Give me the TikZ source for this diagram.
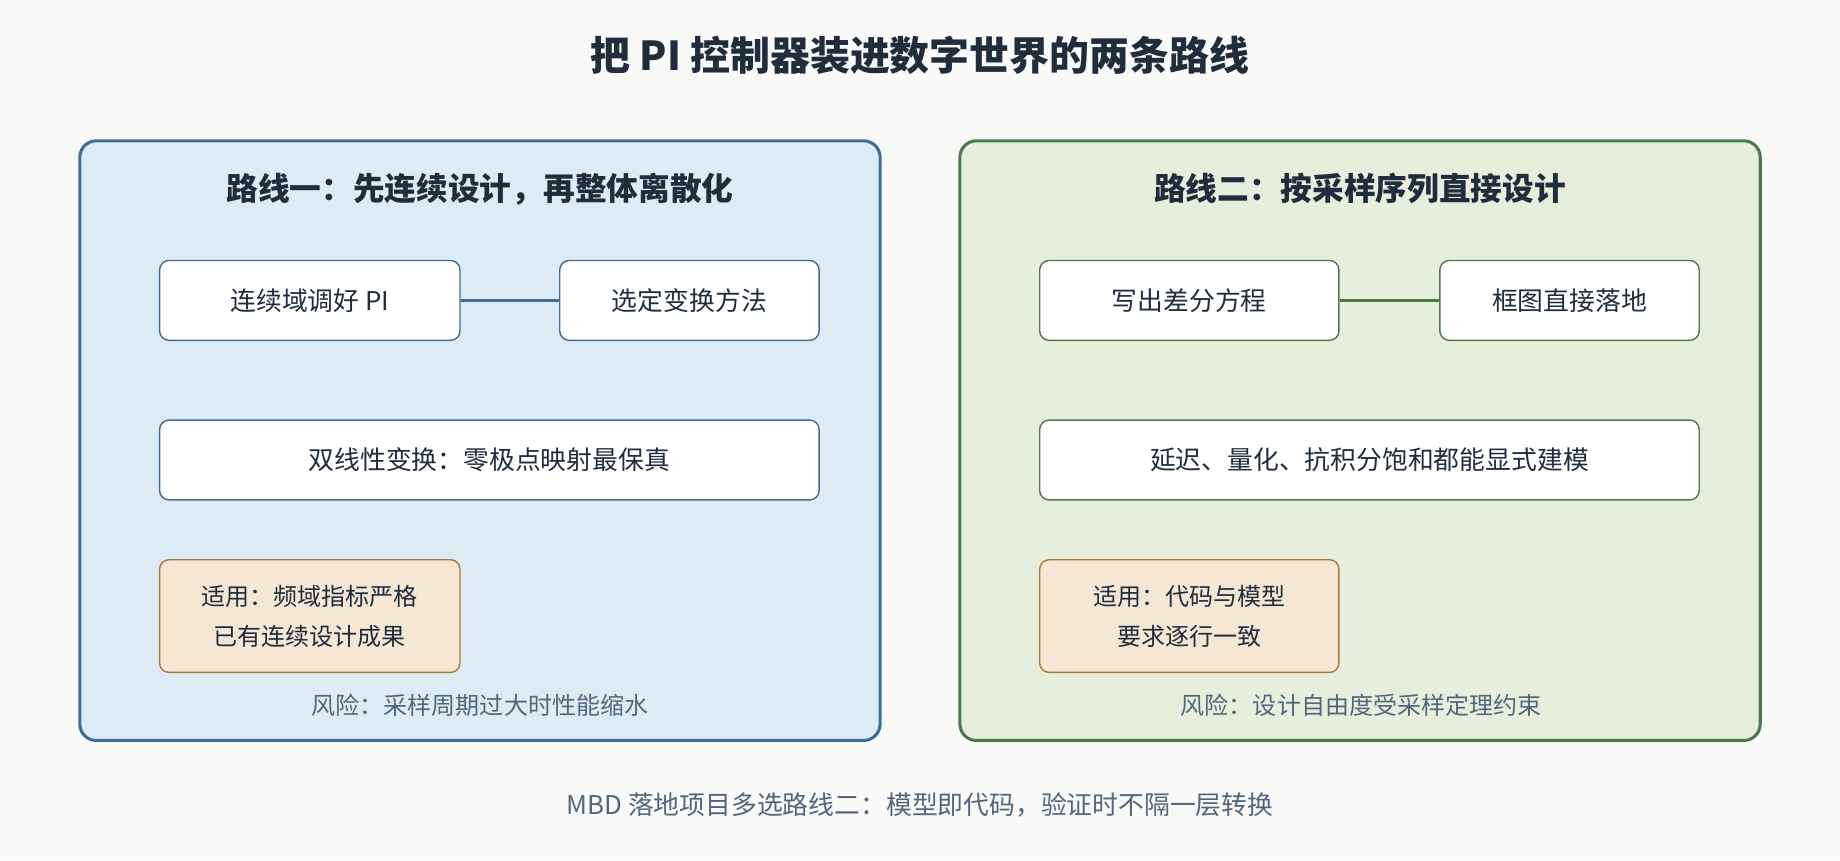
\documentclass[tikz,border=0pt]{standalone}
\usepackage{fontspec}
\setmainfont{Noto Sans CJK SC}
\begin{document}
\begin{tikzpicture}[x=1pt,y=-1pt,
 panel/.style={rounded corners=14pt,line width=2.6pt},
 box/.style={draw,fill=white,rounded corners=8pt,line width=1.2pt,font=\fontsize{22}{26}\selectfont,text=txt},
 note/.style={draw=noteb,fill=notef,rounded corners=8pt,line width=1.2pt,font=\fontsize{20.5}{34}\selectfont,text=txt,align=center},
 ptitle/.style={font=\bfseries\fontsize{27}{30}\selectfont,text=txt},
 risk/.style={font=\fontsize{20.5}{24}\selectfont,text=gray1},
 link/.style={line width=3pt}]
\definecolor{txt}{HTML}{1F2D3D}
\definecolor{gray1}{HTML}{52677D}
\definecolor{bl}{HTML}{3E6E98}
\definecolor{blf}{HTML}{DCEBF4}
\definecolor{gr}{HTML}{4B7A4B}
\definecolor{grf}{HTML}{E6EFDC}
\definecolor{notef}{HTML}{F5E7D4}
\definecolor{noteb}{HTML}{A8793A}
\fill[fill={rgb,255:red,249;green,249;blue,248}] (0,0) rectangle (1568,733);
\useasboundingbox (0,0) rectangle (1568,733);
\node[font=\bfseries\fontsize{34}{38}\selectfont,text=txt] (title) at (784,47) {把 PI 控制器装进数字世界的两条路线};
% left
\draw[panel,draw=bl,fill=blf] (68,120) rectangle (750,631);
\node[ptitle] (lt) at (409,161) {路线一：先连续设计，再整体离散化};
\node[box,draw=bl,minimum width=256pt,minimum height=68pt] (a) at (264,256) {连续域调好 PI};
\node[box,draw=bl,minimum width=221pt,minimum height=68pt] (b) at (587.5,256) {选定变换方法};
\draw[link,bl] (a) -- (b);
\node[box,draw=bl,minimum width=562pt,minimum height=68pt] (c) at (417,392) {双线性变换：零极点映射最保真};
\node[note,minimum width=256pt,minimum height=96pt] (n1) at (264,525) {适用：频域指标严格\\已有连续设计成果};
\node[risk] (r1) at (409,601) {风险：采样周期过大时性能缩水};
% right
\draw[panel,draw=gr,fill=grf] (818,120) rectangle (1500,631);
\node[ptitle] (rt) at (1159,161) {路线二：按采样序列直接设计};
\node[box,draw=gr,minimum width=255pt,minimum height=68pt] (d) at (1013.5,256) {写出差分方程};
\node[box,draw=gr,minimum width=221pt,minimum height=68pt] (e) at (1337.5,256) {框图直接落地};
\draw[link,gr] (d) -- (e);
\node[box,draw=gr,minimum width=562pt,minimum height=68pt] (f) at (1167,392) {延迟、量化、抗积分饱和都能显式建模};
\node[note,minimum width=255pt,minimum height=96pt] (n2) at (1013.5,525) {适用：代码与模型\\要求逐行一致};
\node[risk] (r2) at (1160,601) {风险：设计自由度受采样定理约束};
\node[font=\fontsize{22}{26}\selectfont,text=gray1] (foot) at (784,686) {MBD 落地项目多选路线二：模型即代码，验证时不隔一层转换};
\end{tikzpicture}
\end{document}
